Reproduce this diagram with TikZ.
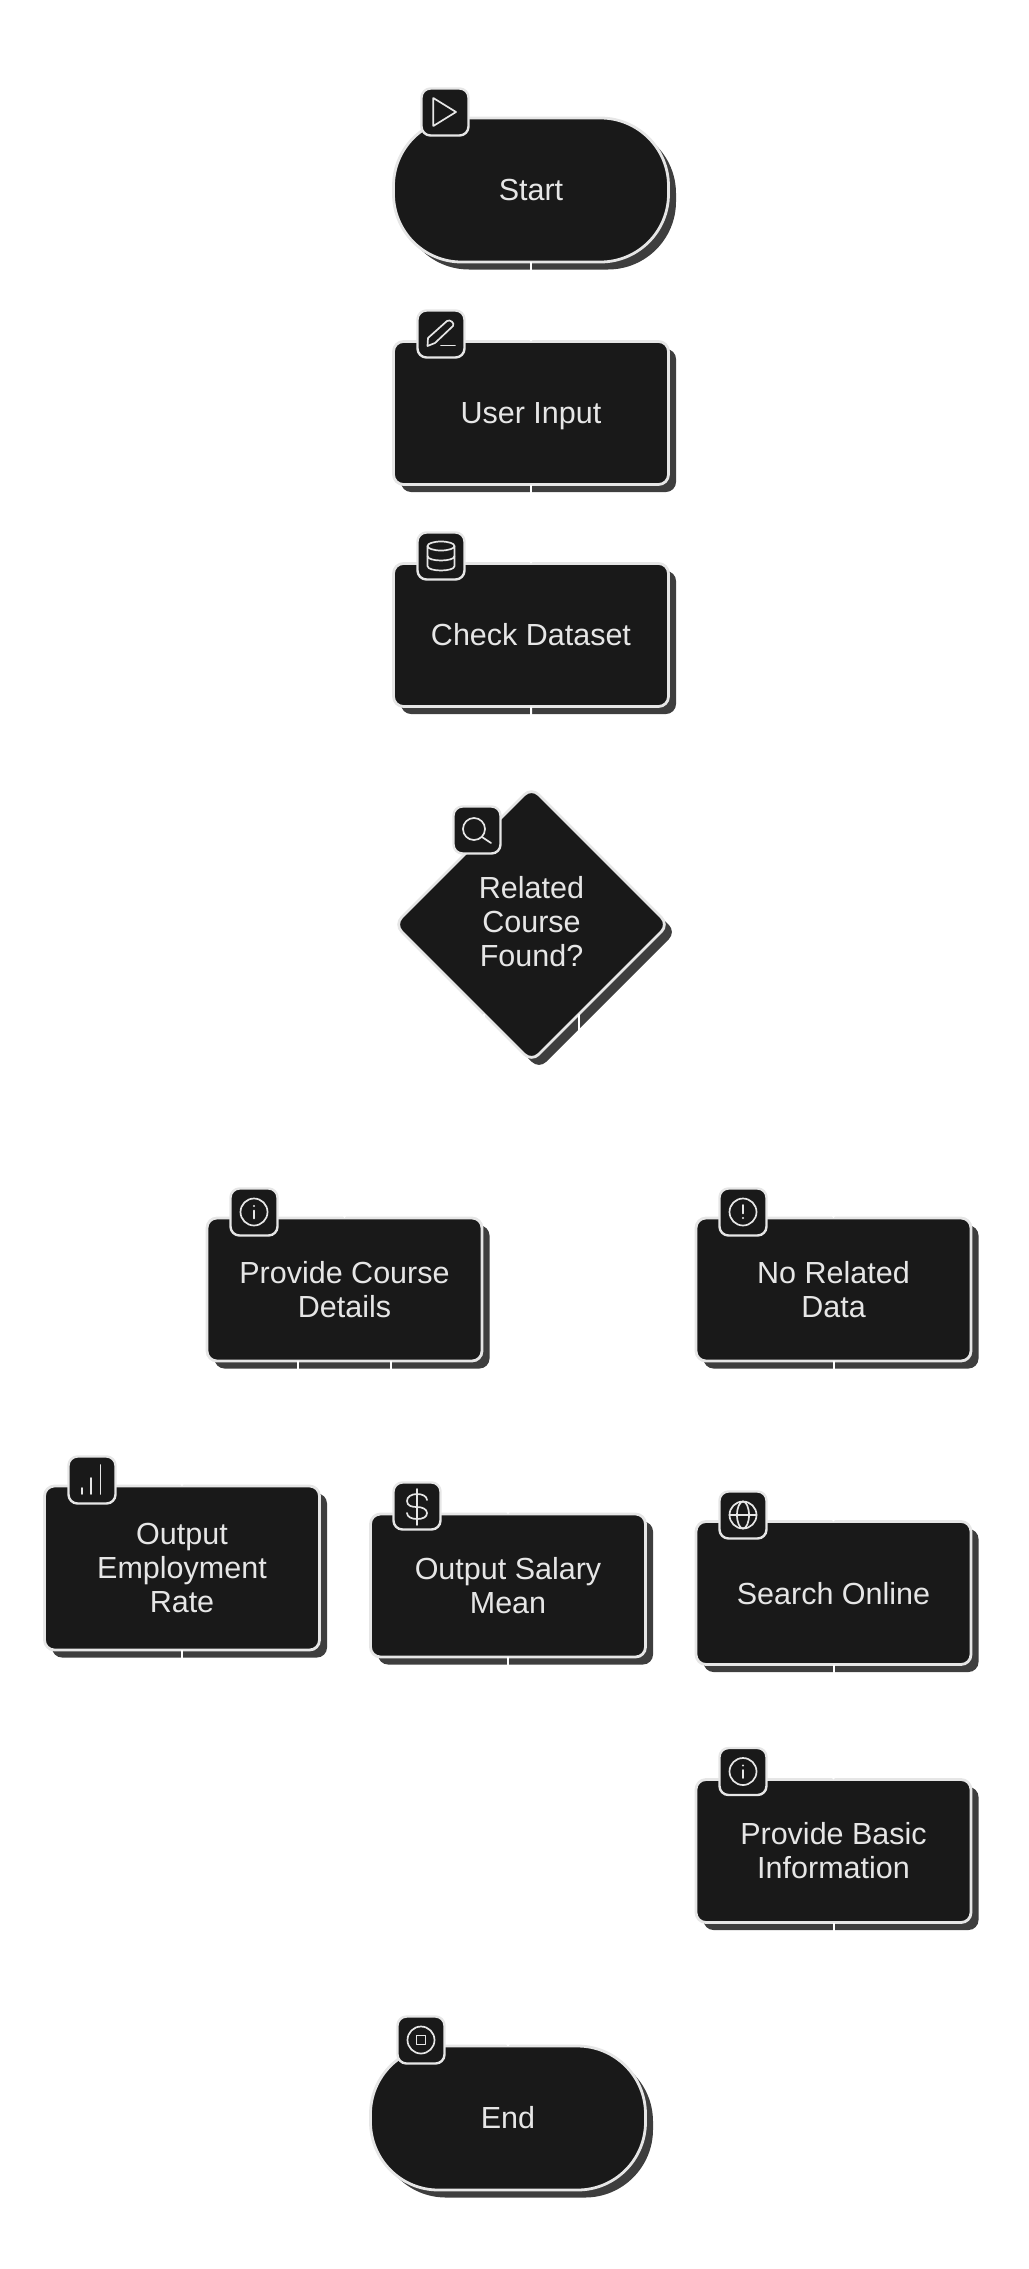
\documentclass[tikz,border=0pt]{standalone}
\usepackage{fontspec}
\setmainfont{Liberation Sans}
\usetikzlibrary{arrows.meta,shapes.geometric,shadows}
\definecolor{panelfill}{HTML}{191919}
\definecolor{paneledge}{HTML}{E6E6E6}
\definecolor{panelshade}{HTML}{3E3E3E}
\tikzset{
  panel/.style={draw=paneledge,fill=panelfill,text=paneledge,line width=2.8pt,align=center,inner sep=0pt,outer sep=0pt,
    drop shadow={shadow xshift=7.5pt,shadow yshift=-7.5pt,opacity=1,fill=panelshade}},
  process/.style={panel,rectangle,rounded corners=10pt,minimum width=275pt,minimum height=143pt},
  terminal/.style={panel,rectangle,rounded corners=68pt,minimum width=275pt,minimum height=144pt},
  decision/.style={panel,diamond,rounded corners=10pt,minimum width=274pt,minimum height=274pt},
  badge/.style={draw=paneledge,fill=panelfill,line width=2.4pt,rectangle,rounded corners=9pt,minimum width=47pt,minimum height=47pt,inner sep=0pt},
  wire/.style={draw=white,line width=2pt,-{Stealth[length=3pt,width=5pt]}},
  glyph/.style={draw=paneledge,line width=1.7pt,line cap=round,line join=round},
  iconplay/.pic={\draw[glyph] (-11.7,-14) -- (-11.7,14) -- (11,0) -- cycle;},
  iconpen/.pic={\draw[glyph] (-13.5,12) -- (-13,4) -- (6,-13) .. controls (9,-15) and (14,-11) .. (12,-8) -- (-6,9) -- cycle;
    \draw[glyph] (0,11.5) -- (14,11.5);},
  iconbase/.pic={\draw[glyph] (0,-10) ellipse (13.5pt and 4.5pt);
    \draw[glyph] (-13.5,-10) -- (-13.5,10) .. controls (-13.5,16) and (13.5,16) .. (13.5,10) -- (13.5,-10);
    \draw[glyph] (-13.5,0) .. controls (-13.5,6) and (13.5,6) .. (13.5,0);},
  iconlens/.pic={\draw[glyph] (-3,-1) circle (11pt);
    \draw[glyph] (5,7) -- (14,13);},
  iconinfo/.pic={\draw[glyph] (0,0) circle (13.5pt);
    \fill[paneledge] (0,-6) circle (1.1pt);
    \draw[glyph] (0,-1.5) -- (0,6.5);},
  iconalert/.pic={\draw[glyph] (0,0) circle (13.5pt);
    \draw[glyph] (0,-7) -- (0,1.5);
    \fill[paneledge] (0,6) circle (1.1pt);},
  iconbars/.pic={\draw[glyph] (-10,14) -- (-10,8);
    \draw[glyph] (-1,14) -- (-1,-2);
    \draw[glyph] (8.6,14) -- (8.6,-15);},
  icondollar/.pic={\draw[glyph] (0,-17) -- (0,19);
    \draw[glyph] (10,-6) .. controls (10,-10) and (5,-12) .. (0,-12) .. controls (-6,-12) and (-10,-9) .. (-10,-5)
      .. controls (-10,0) and (-5,1) .. (0,1) .. controls (5,1) and (10,3) .. (10,7) .. controls (10,11) and (6,13) .. (0,13)
      .. controls (-5,13) and (-10,11) .. (-10,7);},
  iconglobe/.pic={\draw[glyph] (0,0) circle (13.5pt);
    \draw[glyph] (-13.5,0) -- (13.5,0);
    \draw[glyph] (0,0) ellipse (6pt and 13.5pt);},
  iconstop/.pic={\draw[glyph] (0,0) circle (13.5pt);
    \draw[glyph] (-4.5,-4.5) rectangle (4.5,4.5);},
}
\begin{document}
\begin{tikzpicture}[y=-1pt,x=1pt,font=\fontsize{30.5}{34}\selectfont]
\useasboundingbox (0,0) rectangle (1028,2269);

\node[terminal] (start) at (531,190) {Start};
\node[process,text depth=0pt] (input) at (531,413) {User Input};
\node[process] (dataset) at (531,635) {Check Dataset};
\node[decision,text depth=6pt] (found) at (531.5,924.5) {Related\\Course\\Found?};
\node[process] (details) at (344.5,1289.5) {Provide Course\\Details};
\node[process] (norelated) at (833.5,1289.5) {No Related\\Data};
\node[process,minimum height=164pt] (employ) at (182,1568) {Output\\Employment\\Rate};
\node[process] (salary) at (508,1585.5) {Output Salary\\Mean};
\node[process,text depth=0pt] (search) at (833.5,1593) {Search Online};
\node[process] (basic) at (833.5,1851) {Provide Basic\\Information};
\node[terminal] (finish) at (508,2118) {End};

\node[badge] (startbadge) at (445,112) {};
\node[badge] (inputbadge) at (441,334) {};
\node[badge] (datasetbadge) at (441,556) {};
\node[badge] (foundbadge) at (477,830) {};
\node[badge] (detailsbadge) at (254,1212) {};
\node[badge] (norelatedbadge) at (743,1212) {};
\node[badge] (employbadge) at (92,1480) {};
\node[badge] (salarybadge) at (417,1506) {};
\node[badge] (searchbadge) at (743,1515) {};
\node[badge] (basicbadge) at (743,1771.5) {};
\node[badge] (finishbadge) at (421,2040) {};

\pic at (startbadge) {iconplay};
\pic at (inputbadge) {iconpen};
\pic at (datasetbadge) {iconbase};
\pic at (foundbadge) {iconlens};
\pic at (detailsbadge) {iconinfo};
\pic at (norelatedbadge) {iconalert};
\pic at (employbadge) {iconbars};
\pic at (salarybadge) {icondollar};
\pic at (searchbadge) {iconglobe};
\pic at (basicbadge) {iconinfo};
\pic at (finishbadge) {iconstop};

\draw[wire] (start) -- (input);
\draw[wire] (input) -- (dataset);
\draw[wire] (dataset) -- (found);
\draw[wire] (found.-118) -- ++(0,130) -| (details.north);
\draw[wire] (found.-62) -- ++(0,130) -| (norelated.north);
\draw[wire] ([xshift=-47pt]details.south) -- ++(0,63) -| (employ.north);
\draw[wire] ([xshift=46pt]details.south) -- ++(0,63) -| (salary.north);
\draw[wire] (norelated) -- (search);
\draw[wire] (search) -- (basic);
\draw[wire] (employ.south) -- ++(0,334) -| (finish.north);
\draw[wire] (salary) -- (finish);
\draw[wire] (basic.south) -- ++(0,62) -| (finish.north);
\end{tikzpicture}
\end{document}
